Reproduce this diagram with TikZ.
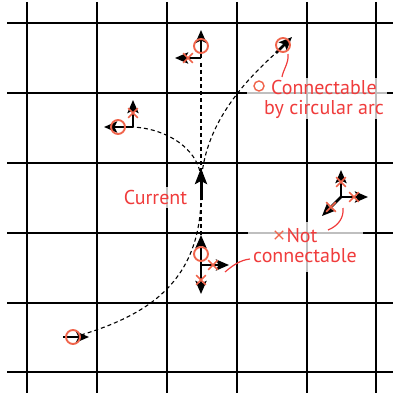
\documentclass[tikz,border=0pt]{standalone}
\usepackage{fontspec}
\setmainfont{PT Sans}
\usetikzlibrary{arrows.meta,shapes.misc}
\definecolor{lblred}{RGB}{240,60,60}
\definecolor{mkred}{RGB}{240,100,75}
\begin{document}
\begin{tikzpicture}[x=1pt,y=-1pt,
  gridline/.style={line width=2.4pt,black},
  posearrow/.style={line width=2.6pt,black,-{Stealth[length=13pt,width=11pt,inset=2.5pt]}},
  curarrow/.style={line width=3pt,black,-{Stealth[length=16pt,width=12pt,inset=3pt]}},
  arcpath/.style={black,line width=1.1pt,dash pattern=on 4pt off 3pt},
  okmark/.style={circle,draw=mkred,line width=1.9pt,minimum size=14pt,inner sep=0pt},
  nomark/.style={cross out,draw=mkred,line width=1.7pt,minimum size=8pt,inner sep=0pt},
  leader/.style={lblred,line width=1.2pt},
  lbl/.style={text=lblred,font=\fontsize{20pt}{20pt}\selectfont,inner sep=0pt,anchor=base},
  halo/.style={fill=white,fill opacity=0.75,draw=none}
]
\useasboundingbox (0,0) rectangle (393,396);
% grid
\foreach \gx in {27,97,167,237,307,376} \draw[gridline] (\gx,2) -- (\gx,393);
\foreach \gy in {23,93,163,233,303,372} \draw[gridline] (7,\gy) -- (393,\gy);
% label halos
\fill[halo] (247,78) rectangle (387,119);
\fill[halo] (248,222) rectangle (363,272);
\fill[halo] (120,187) rectangle (192,208);

% named points
\coordinate (curbase) at (201,200);
\coordinate (curtip) at (201,168);
\coordinate (tpc) at (201,58);
\coordinate (tpu) at (201,30);
\coordinate (tpl) at (175,58);
\coordinate (lpc) at (133,127);
\coordinate (lpu) at (133,100);
\coordinate (lpl) at (104,127);
\coordinate (trs) at (276,53);
\coordinate (trt) at (292,37);
\coordinate (bpc) at (201,265);
\coordinate (bpu) at (201,235);
\coordinate (bpr) at (229,265);
\coordinate (bpd) at (201,294);
\coordinate (rpc) at (341,197);
\coordinate (rpu) at (341,170);
\coordinate (rpr) at (368,197);
\coordinate (rpdl) at (322,216);
\coordinate (bls) at (63,337);
\coordinate (blt) at (89,337);

% dashed arcs
\draw[arcpath] (201,63) -- (bpu);
\draw[arcpath] (81,335) .. controls (143,316) and (201,285) .. (201,195);
\draw[arcpath] (201,190) .. controls (201,130) and (240,85) .. (277,52);
\draw[arcpath] (130,127) .. controls (160,127) and (198,145) .. (201,178);

% current
\draw[curarrow] (curbase) -- (curtip);

% poses
\draw[posearrow] (tpc) -- (tpu);
\draw[posearrow] (tpc) -- (tpl);
\draw[posearrow] (lpc) -- (lpu);
\draw[posearrow] (lpc) -- (lpl);
\draw[posearrow] (trs) -- (trt);
\draw[posearrow] (bpc) -- (bpu);
\draw[posearrow] (bpc) -- (bpr);
\draw[posearrow] (bpc) -- (bpd);
\draw[posearrow] (rpc) -- (rpu);
\draw[posearrow] (rpc) -- (rpr);
\draw[posearrow] (rpc) -- (rpdl);
\draw[posearrow] (bls) -- (blt);

% markers
\node[okmark] (m1) at (201,46) {};
\node[nomark] (x1) at (188,58) {};
\node[okmark] (m2) at (118,127) {};
\node[nomark] (x2) at (133,113) {};
\node[okmark] (m3) at (283,45) {};
\node[okmark] (m4) at (201,254) {};
\node[nomark] (x4a) at (213,265) {};
\node[nomark] (x4b) at (201,280) {};
\node[nomark] (x5a) at (341,182) {};
\node[nomark] (x5b) at (354,197) {};
\node[nomark] (x5c) at (331,207) {};
\node[okmark] (m6) at (73,337) {};

% labels
\node[lbl] (lcur) at (155.5,204) {Current};
\node[okmark,minimum size=10pt,line width=1.4pt] (icon) at (259,86) {};
\node[lbl,align=center] (lconn) at (324,114) {Connectable\\by circular arc};
\node[nomark,minimum size=7pt,line width=1.3pt] (xicon) at (279,235) {};
\node[lbl,align=center] (lnot) at (305,262) {\hspace*{-6pt}Not\\connectable};

% leaders
\draw[leader] (288,54) .. controls (289,63) and (283,70) .. (282,77);
\draw[leader] (328,230) .. controls (338,226) and (344,218) .. (343,208);
\draw[leader] (250,259) .. controls (240,260) and (232,266) .. (225,272);
\end{tikzpicture}
\end{document}
